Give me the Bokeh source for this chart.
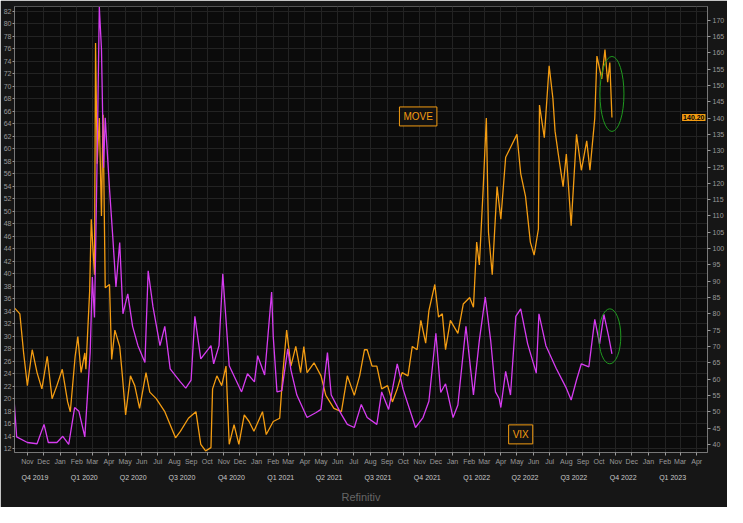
import pandas as pd
from bokeh.plotting import figure
from bokeh.models import (Range1d, LinearAxis, DatetimeAxis, FixedTicker, CustomJSTickFormatter,
                          Label, Title, DatetimeTickFormatter)
from bokeh.embed import file_html
from bokeh.resources import INLINE

vix_dates = ["2019-10-07","2019-10-12","2019-11-01","2019-11-19","2019-12-02","2019-12-10","2019-12-26",
 "2020-01-06","2020-01-17","2020-01-28","2020-02-05","2020-02-16","2020-02-26","2020-03-01","2020-03-05",
 "2020-03-10","2020-03-14","2020-03-18","2020-03-22","2020-03-25","2020-04-02","2020-04-08","2020-04-14",
 "2020-04-21","2020-04-27","2020-05-06","2020-05-15","2020-05-25","2020-06-07","2020-06-13","2020-06-22",
 "2020-07-05","2020-07-14","2020-07-24","2020-08-12","2020-08-22","2020-09-01","2020-09-08","2020-09-19",
 "2020-10-08","2020-10-13","2020-10-23","2020-10-30","2020-11-11","2020-12-04","2020-12-15","2020-12-28",
 "2021-01-03","2021-01-16","2021-01-29","2021-02-01","2021-02-08","2021-02-17","2021-02-28","2021-03-06",
 "2021-03-17","2021-04-05","2021-04-22","2021-05-01","2021-05-13","2021-05-20","2021-06-08","2021-06-19",
 "2021-07-02","2021-07-15","2021-07-26","2021-08-13","2021-08-22","2021-09-04","2021-09-20","2021-10-01",
 "2021-10-18","2021-10-24","2021-11-07","2021-11-18","2021-12-01","2021-12-10","2021-12-19","2022-01-02",
 "2022-01-11","2022-01-26","2022-02-09","2022-02-20","2022-03-03","2022-03-13","2022-03-22","2022-03-29",
 "2022-04-01","2022-04-10","2022-04-19","2022-04-29","2022-05-08","2022-05-21","2022-06-06","2022-06-11",
 "2022-06-24","2022-07-13","2022-08-01","2022-08-10","2022-08-20","2022-08-29","2022-09-12","2022-09-23",
 "2022-10-02","2022-10-10","2022-10-19","2022-10-25"]
vix_values = [20.1,13.9,13.0,12.8,15.9,13.0,13.0,
 14.0,12.7,18.6,18.0,13.9,27.4,39.5,33.0,
 58.8,82.7,76.0,57.0,65.0,53.6,46.0,37.9,
 45.0,33.6,36.8,31.6,28.5,25.8,40.5,34.7,
 28.5,31.6,24.8,22.7,21.7,23.0,33.2,26.4,
 28.5,25.6,28.5,40.0,25.3,21.1,24.0,22.7,
 26.9,23.8,37.1,30.0,21.1,21.3,28.0,24.6,
 20.6,17.0,17.8,18.3,27.4,20.6,17.5,15.9,
 15.4,19.1,17.0,15.9,21.1,18.3,25.6,21.5,
 17.0,15.4,17.0,19.6,30.5,21.0,22.4,17.0,
 19.0,31.6,20.6,29.4,36.3,29.4,21.1,20.0,
 18.6,24.4,20.6,33.2,34.4,28.8,24.1,33.6,
 28.5,24.9,21.7,19.8,23.0,25.6,25.1,32.7,
 28.8,33.5,29.9,27.2]

move_dates = ["2019-10-07","2019-10-18","2019-10-25","2019-11-01","2019-11-10","2019-11-19","2019-11-28",
 "2019-12-08","2019-12-17","2019-12-26","2020-01-05","2020-01-15","2020-01-20","2020-01-29","2020-02-03",
 "2020-02-09","2020-02-16","2020-02-18","2020-02-25","2020-02-28","2020-03-05","2020-03-07","2020-03-10",
 "2020-03-14","2020-03-18","2020-03-21","2020-03-25","2020-04-02","2020-04-06","2020-04-12","2020-04-21",
 "2020-04-26","2020-05-02","2020-05-11","2020-05-19","2020-05-28","2020-06-09","2020-06-16","2020-06-28",
 "2020-07-14","2020-07-24","2020-08-03","2020-08-12","2020-08-27","2020-09-10","2020-09-19","2020-09-28",
 "2020-10-08","2020-10-11","2020-10-19","2020-10-28","2020-11-05","2020-11-11","2020-11-20","2020-11-29",
 "2020-12-09","2020-12-18","2020-12-27","2021-01-12","2021-01-19","2021-02-01","2021-02-13","2021-02-19",
 "2021-02-26","2021-03-06","2021-03-15","2021-03-24","2021-03-30","2021-04-05","2021-04-18","2021-05-01",
 "2021-05-10","2021-05-25","2021-06-08","2021-06-19","2021-07-02","2021-07-12","2021-07-21","2021-07-26",
 "2021-08-04","2021-08-13","2021-08-22","2021-09-02","2021-09-11","2021-09-20","2021-09-29","2021-10-10",
 "2021-10-18","2021-10-27","2021-11-03","2021-11-12","2021-11-18","2021-11-29","2021-12-06","2021-12-13",
 "2021-12-19","2021-12-28","2022-01-11","2022-01-21","2022-02-02","2022-02-09","2022-02-15","2022-02-20",
 "2022-02-27","2022-03-05","2022-03-09","2022-03-16","2022-03-25","2022-04-01","2022-04-10","2022-04-19",
 "2022-05-01","2022-05-08","2022-05-17","2022-05-26","2022-06-02","2022-06-10","2022-06-12","2022-06-21",
 "2022-06-30","2022-07-07","2022-07-11","2022-07-17","2022-07-26","2022-08-01","2022-08-10","2022-08-20",
 "2022-08-29","2022-09-08","2022-09-14","2022-09-23","2022-09-27","2022-10-06","2022-10-12","2022-10-17",
 "2022-10-21","2022-10-25"]
move_values = [82,80,68,58,69,62,57,
 67,54,58,63,53,50,67,73,
 62,68,63,87,109,92,163,126,
 140,110,141,88,89,66,75,70,
 61,49,61,58,51,62,56,54,
 50,46,42,44,48,50,40,38,
 39,57,61,58,64,40,46,40,
 49,47,44,50,43,47,48,62,
 75,64,70,62,70,62,65,61,
 55,51,50,61,55,61,69,69,
 64,64,57,58,53,57,62,61,
 70,69,78,71,81,89,79,80,
 69,78,74,83,85,82,102,95,
 118,140,105,92,119,109,128,131,
 135,123,116,102,98,106,144,134,
 156,146,136,129,119,129,107,135,
 124,133,124,140,159,152,161,151,
 157,140.2]

month_starts = pd.date_range("2019-10-01", "2023-05-01", freq="MS")
quarter_mids = pd.date_range("2019-10-01", "2023-04-01", freq="QS") + pd.DateOffset(days=45)

vd = pd.to_datetime(vix_dates)
md = pd.to_datetime(move_dates)

BG = "#0b0b0b"
BORDER = "#161616"
GRID = "#232323"
AX = "#9a9a9a"
ORANGE = "#f39c12"
MAGENTA = "#d63cf0"

p = figure(width=727, height=507, x_axis_type="datetime", output_backend="svg",
           toolbar_location=None, background_fill_color=BG, border_fill_color=BORDER,
           x_range=Range1d(pd.Timestamp("2019-10-08"), pd.Timestamp("2023-04-21")),
           y_range=Range1d(11.4, 82.8), min_border_left=4, min_border_right=4,
           min_border_top=6, min_border_bottom=4, outline_line_color="#555555")
p.extra_y_ranges = {"move": Range1d(37.5, 174.2)}

p.xaxis.visible = False
p.yaxis.visible = False

la = LinearAxis(ticker=FixedTicker(ticks=list(range(12, 83, 2))))
la.major_label_text_font_size = "7px"
la.major_label_text_color = AX
la.axis_line_color = "#777777"
la.major_tick_line_color = AX
la.major_tick_in = 0
la.major_tick_out = 2
la.minor_tick_line_color = None
la.major_label_standoff = 1
p.add_layout(la, "left")

ra = LinearAxis(y_range_name="move", ticker=FixedTicker(ticks=list(range(40, 171, 5))))
ra.major_label_text_font_size = "7px"
ra.major_label_text_color = AX
ra.axis_line_color = "#777777"
ra.major_tick_line_color = AX
ra.major_tick_in = 0
ra.major_tick_out = 3
ra.minor_tick_line_color = None
ra.major_label_standoff = 2
p.add_layout(ra, "right")

ms_ticks = [t.value / 1e6 for t in month_starts]
ba = DatetimeAxis(ticker=FixedTicker(ticks=ms_ticks),
                  formatter=DatetimeTickFormatter(months="%b", days="%b", years="%b"))
ba.major_label_text_font_size = "7px"
ba.major_label_text_color = AX
ba.axis_line_color = "#777777"
ba.major_tick_line_color = AX
ba.major_tick_in = 0
ba.major_tick_out = 3
ba.minor_tick_line_color = None
ba.major_label_standoff = 2
p.add_layout(ba, "below")

q_ticks = [t.value / 1e6 for t in quarter_mids]
qa = DatetimeAxis(ticker=FixedTicker(ticks=q_ticks),
                  formatter=CustomJSTickFormatter(code="""
const d = new Date(tick); const q = Math.floor(d.getUTCMonth()/3)+1;
return 'Q' + q + ' ' + d.getUTCFullYear();"""))
qa.major_label_text_font_size = "7px"
qa.major_label_text_color = "#c8c8c8"
qa.axis_line_color = None
qa.major_tick_line_color = None
qa.minor_tick_line_color = None
qa.major_label_standoff = 0
p.add_layout(qa, "below")

p.add_layout(Title(text="Refinitiv", align="center", text_color="#666666",
                   text_font_size="11px", text_font_style="normal", text_font="Liberation Sans"), "below")

p.xgrid.ticker = FixedTicker(ticks=ms_ticks)
p.ygrid.ticker = FixedTicker(ticks=list(range(12, 83, 2)))
p.xgrid.grid_line_color = GRID
p.ygrid.grid_line_color = GRID

p.line(md, move_values, y_range_name="move", line_color=ORANGE, line_width=1.3)
p.line(vd, vix_values, line_color=MAGENTA, line_width=1.3)

p.ellipse(x=[pd.Timestamp("2022-10-25")], y=[147.4], width=24, height=75,
          width_units="screen", height_units="screen", y_range_name="move",
          fill_color=None, line_color="#1f9a1f", line_width=1)
p.ellipse(x=[pd.Timestamp("2022-10-21")], y=[30.0], width=22, height=55,
          width_units="screen", height_units="screen",
          fill_color=None, line_color="#1f9a1f", line_width=1)

p.add_layout(Label(x=pd.Timestamp("2021-10-29"), y=140.5, y_range_name="move", text="MOVE",
                   text_color=ORANGE, text_font_size="10px", text_align="center",
                   text_baseline="middle", border_line_color=ORANGE,
                   background_fill_color="#111111", padding=4))
p.add_layout(Label(x=pd.Timestamp("2022-05-08"), y=14.3, text="VIX",
                   text_color=ORANGE, text_font_size="10px", text_align="center",
                   text_baseline="middle", border_line_color=ORANGE,
                   background_fill_color="#111111", padding=4))
p.add_layout(Label(x=pd.Timestamp("2023-04-21"), y=140.2, y_range_name="move", text="140.20",
                   text_color="#000000", text_font_size="7px", text_font_style="bold",
                   text_align="right", text_baseline="middle", background_fill_color=ORANGE,
                   x_offset=-2, padding=1))

open("out.html", "w").write(file_html(p, INLINE))
